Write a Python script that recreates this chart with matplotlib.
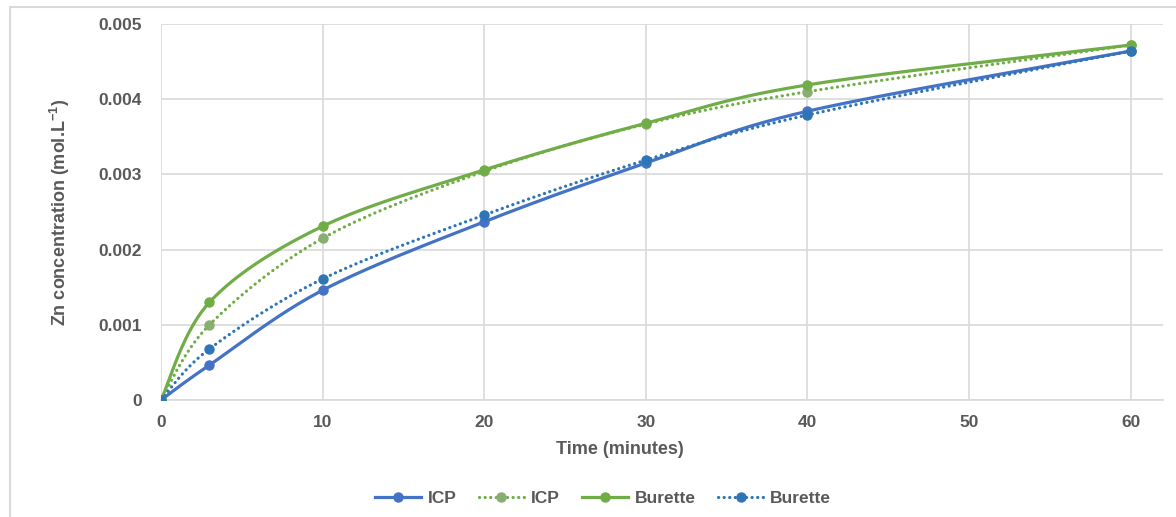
import numpy as np
import matplotlib
matplotlib.use("Agg")
import matplotlib.pyplot as plt
from matplotlib.lines import Line2D
from matplotlib.patches import Rectangle

plt.rcParams["font.family"] = ["Liberation Sans", "DejaVu Sans"]
plt.rcParams["mathtext.fontset"] = "custom"
plt.rcParams["mathtext.default"] = "bf"
plt.rcParams["mathtext.bf"] = "Liberation Sans:bold"
plt.rcParams["mathtext.rm"] = "Liberation Sans:bold"

# Data
time = [0, 3, 10, 20, 30, 40, 60]
icp = [0, 0.000465, 0.00146, 0.00237, 0.00315, 0.00384, 0.00464]
icp_dot = [0, 0.00100, 0.00215, 0.00304, 0.00367, 0.00410, 0.00472]
burette = [0, 0.00130, 0.00231, 0.00306, 0.00368, 0.00419, 0.00472]
burette_dot = [0, 0.00068, 0.00161, 0.00246, 0.00319, 0.00379, 0.00464]

blue = "#4472C4"
green = "#70AD47"
blue2 = "#2E75B6"
grey_green = "#8AAE72"
txt = "#595959"


def smooth(x, y, n=40):
    # Excel-like smoothed line: cubic Bezier between points
    x = np.asarray(x, float)
    y = np.asarray(y, float)
    px, py = [], []
    for i in range(len(x) - 1):
        x0, y0 = (x[i - 1], y[i - 1]) if i > 0 else (x[i], y[i])
        x3, y3 = (x[i + 2], y[i + 2]) if i + 2 < len(x) else (x[i + 1], y[i + 1])
        c1x = x[i] + (x[i + 1] - x0) / 6
        c1y = y[i] + (y[i + 1] - y0) / 6
        c2x = x[i + 1] - (x3 - x[i]) / 6
        c2y = y[i + 1] - (y3 - y[i]) / 6
        t = np.linspace(0, 1, n)
        bx = (1-t)**3*x[i] + 3*(1-t)**2*t*c1x + 3*(1-t)*t**2*c2x + t**3*x[i+1]
        by = (1-t)**3*y[i] + 3*(1-t)**2*t*c1y + 3*(1-t)*t**2*c2y + t**3*y[i+1]
        px.extend(bx)
        py.extend(by)
    return px, py


fig = plt.figure(figsize=(11.76, 5.17), dpi=100)
ax = fig.add_axes([0.1369, 0.2263, 0.989 - 0.1369, 0.9536 - 0.2263])

# chart border
fig.patches.append(Rectangle((10 / 1176, -0.01), 1.0, 1 - 7 / 517 + 0.01,
                             transform=fig.transFigure, fill=False,
                             edgecolor="#D9D9D9", lw=1.5))

dot = (0, (0.05, 1.7))
series = [
    (icp, blue, "-", blue, "ICP"),
    (icp_dot, green, dot, grey_green, "ICP"),
    (burette, green, "-", green, "Burette"),
    (burette_dot, blue2, dot, blue2, "Burette"),
]
for ys, c, ls, mc, lab in series:
    sx, sy = smooth(time, ys)
    ax.plot(sx, sy, color=c, ls=ls, lw=2.3, zorder=3,
            dash_capstyle="round", solid_capstyle="round")
    ax.plot(time, ys, "o", color=mc, ms=6.5, zorder=4)

ax.set_xlim(0, 62)
ax.set_ylim(0, 0.005)
ax.set_xticks([0, 10, 20, 30, 40, 50, 60])
ax.set_yticks([0, 0.001, 0.002, 0.003, 0.004, 0.005])
ax.set_yticklabels(["0", "0.001", "0.002", "0.003", "0.004", "0.005"])
ax.grid(True, color="#D9D9D9", lw=1.2)
ax.set_axisbelow(True)
for s in ["top", "right", "left"]:
    ax.spines[s].set_visible(False)
ax.spines["bottom"].set_color("#D9D9D9")
ax.spines["bottom"].set_linewidth(1.2)
ax.tick_params(axis="x", length=0, labelsize=12.5, labelcolor=txt, pad=11)
ax.tick_params(axis="y", length=0, labelsize=12.5, labelcolor=txt, pad=14)
for lab in ax.get_xticklabels() + ax.get_yticklabels():
    lab.set_fontweight("bold")

ax.set_xlabel("Time (minutes)", fontsize=13, fontweight="bold", color=txt, labelpad=8)
ax.xaxis.label.set_x(0.458)
ax.set_ylabel("Zn concentration (mol.L$^{-1}$)", fontsize=13,
              fontweight="bold", color=txt, labelpad=19)

handles = [Line2D([], [], color=c, ls=ls, lw=2.3, marker="o", ms=6.5,
                  markerfacecolor=mc, markeredgecolor=mc, dash_capstyle="round")
           for _, c, ls, mc, _ in series]
labels = [s[4] for s in series]
leg = fig.legend(handles, labels, loc="center", bbox_to_anchor=(0.513, 0.035),
                 ncol=4, frameon=False, handlelength=2.6, columnspacing=1.3,
                 handletextpad=0.4, prop={"size": 12.5, "weight": "bold"})
for t in leg.get_texts():
    t.set_color(txt)

fig.savefig("out.png", dpi=100)
